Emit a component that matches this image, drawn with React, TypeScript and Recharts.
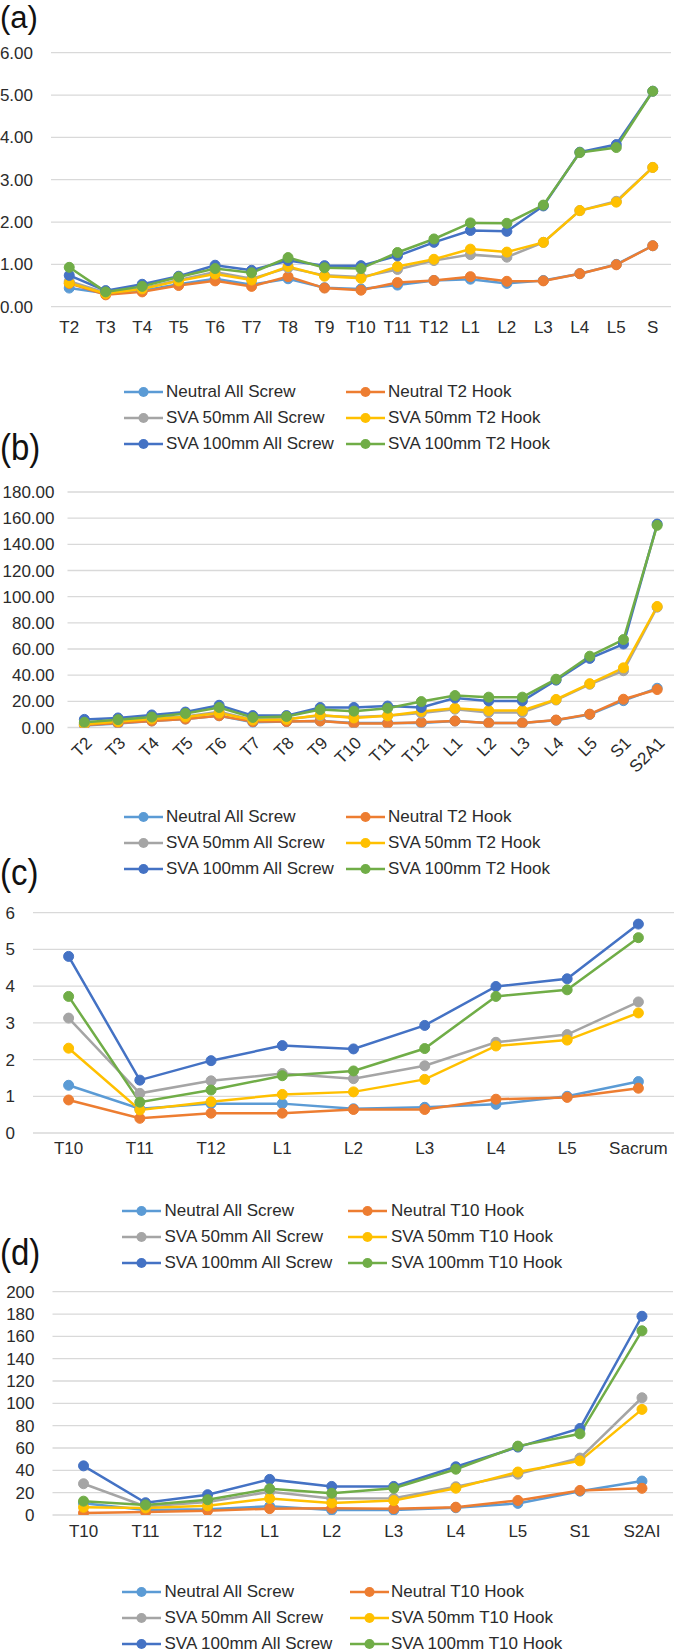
import React from 'react';
import { LineChart, Line, XAxis, YAxis, CartesianGrid, Legend } from 'recharts';

const COLORS = ['#5B9BD5', '#ED7D31', '#A5A5A5', '#FFC000', '#4472C4', '#70AD47'];
const FONT = "'Liberation Sans', Arial, Helvetica, sans-serif";
const TEXT = '#2b2b2b';

// ---- Panel (a) ----
const A_CATS = ['T2', 'T3', 'T4', 'T5', 'T6', 'T7', 'T8', 'T9', 'T10', 'T11', 'T12', 'L1', 'L2', 'L3', 'L4', 'L5', 'S'];
const A_NAMES = ['Neutral All Screw', 'Neutral T2 Hook', 'SVA 50mm All Screw', 'SVA 50mm T2 Hook', 'SVA 100mm All Screw', 'SVA 100mm T2 Hook'];
const A_NEUTRAL_SCREW = [0.44, 0.32, 0.38, 0.53, 0.66, 0.52, 0.66, 0.45, 0.42, 0.51, 0.62, 0.65, 0.55, 0.62, 0.78, 1.0, 1.44];
const A_NEUTRAL_HOOK = [0.55, 0.28, 0.35, 0.5, 0.61, 0.48, 0.71, 0.44, 0.39, 0.57, 0.62, 0.71, 0.6, 0.61, 0.78, 0.99, 1.44];
const A_SVA50_SCREW = [0.6, 0.33, 0.43, 0.63, 0.82, 0.66, 0.92, 0.74, 0.7, 0.88, 1.09, 1.23, 1.17, 1.52, 2.27, 2.49, 3.29];
const A_SVA50_HOOK = [0.56, 0.31, 0.42, 0.61, 0.77, 0.63, 0.95, 0.72, 0.67, 0.95, 1.12, 1.36, 1.29, 1.52, 2.27, 2.47, 3.29];
const A_SVA100_SCREW = [0.74, 0.38, 0.53, 0.72, 0.98, 0.86, 1.09, 0.97, 0.97, 1.2, 1.52, 1.8, 1.78, 2.38, 3.65, 3.83, 5.09];
const A_SVA100_HOOK = [0.93, 0.35, 0.48, 0.7, 0.9, 0.8, 1.16, 0.92, 0.9, 1.28, 1.6, 1.98, 1.97, 2.4, 3.64, 3.76, 5.09];
const A_TICKS = [0, 1, 2, 3, 4, 5, 6];

// ---- Panel (b) ----
const B_CATS = ['T2', 'T3', 'T4', 'T5', 'T6', 'T7', 'T8', 'T9', 'T10', 'T11', 'T12', 'L1', 'L2', 'L3', 'L4', 'L5', 'S1', 'S2A1'];
const B_NAMES = A_NAMES;
const B_NEUTRAL_SCREW = [1.5, 3.0, 5.0, 6.5, 9.0, 4.0, 4.5, 5.0, 3.5, 3.5, 3.5, 5.0, 3.5, 3.5, 5.5, 10.0, 20.5, 30.0];
const B_NEUTRAL_HOOK = [2.0, 3.5, 5.0, 6.5, 9.0, 4.5, 4.5, 5.0, 3.0, 3.0, 4.0, 5.0, 3.5, 3.5, 5.7, 10.2, 21.6, 29.0];
const B_SVA50_SCREW = [3.0, 5.0, 7.0, 8.5, 12.0, 6.0, 6.5, 9.0, 8.0, 9.0, 11.0, 14.0, 11.5, 11.5, 21.0, 33.0, 43.4, 92.0];
const B_SVA50_HOOK = [2.5, 4.5, 6.5, 8.0, 11.0, 5.7, 6.2, 9.6, 7.3, 8.9, 12.3, 14.8, 13.0, 13.0, 21.4, 33.5, 45.6, 92.5];
const B_SVA100_SCREW = [6.2, 7.3, 9.6, 11.8, 17.0, 9.1, 9.1, 15.3, 15.3, 16.4, 15.3, 22.5, 20.3, 20.3, 36.2, 52.8, 63.8, 155.5];
const B_SVA100_HOOK = [4.0, 6.0, 8.0, 10.7, 15.3, 7.7, 8.4, 13.7, 12.5, 14.8, 19.8, 24.4, 23.2, 23.2, 36.9, 54.5, 67.2, 154.5];
const B_TICKS = [0, 20, 40, 60, 80, 100, 120, 140, 160, 180];

// ---- Panel (c) ----
const C_CATS = ['T10', 'T11', 'T12', 'L1', 'L2', 'L3', 'L4', 'L5', 'Sacrum'];
const C_NAMES = ['Neutral All Screw', 'Neutral T10 Hook', 'SVA 50mm All Screw', 'SVA 50mm T10 Hook', 'SVA 100mm All Screw', 'SVA 100mm T10 Hook'];
const C_NEUTRAL_SCREW = [1.3, 0.66, 0.8, 0.8, 0.66, 0.7, 0.78, 1.0, 1.4];
const C_NEUTRAL_HOOK = [0.9, 0.4, 0.54, 0.54, 0.64, 0.64, 0.92, 0.97, 1.22];
const C_SVA50_SCREW = [3.13, 1.08, 1.42, 1.62, 1.48, 1.83, 2.47, 2.68, 3.57];
const C_SVA50_HOOK = [2.31, 0.63, 0.85, 1.05, 1.12, 1.46, 2.37, 2.53, 3.27];
const C_SVA100_SCREW = [4.81, 1.44, 1.97, 2.38, 2.29, 2.93, 3.99, 4.2, 5.69];
const C_SVA100_HOOK = [3.72, 0.84, 1.17, 1.56, 1.69, 2.3, 3.72, 3.9, 5.32];
const C_TICKS = [0, 1, 2, 3, 4, 5, 6];

// ---- Panel (d) ----
const D_CATS = ['T10', 'T11', 'T12', 'L1', 'L2', 'L3', 'L4', 'L5', 'S1', 'S2AI'];
const D_NAMES = C_NAMES;
const D_NEUTRAL_SCREW = [10.5, 4.4, 5.2, 7.8, 4.4, 4.4, 6.5, 10.4, 21.3, 30.4];
const D_NEUTRAL_HOOK = [1.8, 2.6, 3.9, 5.7, 6.0, 5.7, 7.0, 13.0, 22.0, 23.9];
const D_SVA50_SCREW = [28.0, 7.6, 11.6, 20.8, 14.8, 15.0, 25.3, 36.6, 51.0, 105.0];
const D_SVA50_HOOK = [6.9, 6.3, 8.2, 14.8, 10.8, 12.9, 24.0, 38.5, 48.5, 94.6];
const D_SVA100_SCREW = [44.0, 11.0, 18.2, 31.9, 25.6, 25.6, 43.2, 60.8, 77.5, 178.0];
const D_SVA100_HOOK = [12.4, 9.0, 13.7, 23.5, 19.5, 24.0, 41.0, 61.7, 72.7, 165.0];
const D_TICKS = [0, 20, 40, 60, 80, 100, 120, 140, 160, 180, 200];

function buildRows(cats: string[], series: number[][]) {
  return cats.map((c, i) => {
    const row: any = { cat: c };
    series.forEach((s, k) => {
      row['s' + k] = s[i];
    });
    return row;
  });
}

// Rows are 16px tall boxes whose centres sit 26px apart.
function LegendGrid(props: any) {
  const { payload, names, ix1, ix2, tx1, tx2 } = props;
  const items = names
    .map((n: string) => (payload || []).find((p: any) => p.value === n))
    .filter(Boolean);
  return (
    <div style={{ position: 'relative', width: 674, height: 68 }}>
      {items.map((p: any, i: number) => {
        const col = i % 2;
        const row = Math.floor(i / 2);
        const ix = col === 0 ? ix1 : ix2;
        const tx = col === 0 ? tx1 : tx2;
        return (
          <div key={p.value} style={{ position: 'absolute', left: 0, top: row * 26, height: 16, width: 674 }}>
            <svg style={{ position: 'absolute', left: ix, top: 0 }} width={40} height={16}>
              <line x1={0} y1={8} x2={39} y2={8} stroke={p.color} strokeWidth={2.5} />
              <circle cx={19.5} cy={8} r={5} fill={p.color} />
            </svg>
            <span
              style={{
                position: 'absolute',
                left: tx,
                top: 0,
                height: 16,
                lineHeight: '16px',
                fontSize: 17,
                fontFamily: FONT,
                color: TEXT,
                whiteSpace: 'nowrap',
              }}
            >
              {p.value}
            </span>
          </div>
        );
      })}
    </div>
  );
}

type PanelProps = {
  top: number;
  height: number;
  cats: string[];
  names: string[];
  series: number[][];
  domain: [number, number];
  ticks: number[];
  fmt: (v: number) => string;
  yWidth: number;
  yMargin: number;
  mTop: number;
  mBottom: number;
  mRight: number;
  xMargin: number;
  angle?: number;
  legendTop: number;
  ix1: number;
  ix2: number;
  tx1: number;
  tx2: number;
};

function Panel(p: PanelProps) {
  const rows = buildRows(p.cats, p.series);
  const W = 674;
  const plotW = W - p.yWidth - p.mRight;
  const pad = plotW / p.cats.length / 2;
  const tickStyle = { fontSize: 17, fill: TEXT, fontFamily: FONT };
  return (
    <div style={{ position: 'absolute', left: 0, top: p.top, width: W, height: p.height }}>
      <LineChart
        width={W}
        height={p.height}
        data={rows}
        margin={{ top: p.mTop, right: p.mRight, bottom: p.mBottom, left: 0 }}
      >
        <CartesianGrid vertical={false} stroke="#D9D9D9" strokeWidth={1.3} />
        <XAxis
          dataKey="cat"
          type="category"
          axisLine={false}
          tickLine={false}
          tickSize={0}
          tickMargin={p.xMargin}
          interval={0}
          padding={{ left: pad, right: pad }}
          tick={tickStyle}
          angle={p.angle || 0}
          textAnchor={p.angle ? 'end' : 'middle'}
          height={30}
        />
        <YAxis
          type="number"
          domain={p.domain}
          ticks={p.ticks}
          interval={0}
          width={p.yWidth}
          axisLine={false}
          tickLine={false}
          tickSize={0}
          tickMargin={p.yMargin}
          tick={tickStyle}
          tickFormatter={p.fmt}
          allowDataOverflow
        />
        <Legend
          layout="horizontal"
          verticalAlign="middle"
          align="center"
          wrapperStyle={{ top: p.legendTop, left: 0, width: W, margin: 0, padding: 0 }}
          content={(lp: any) => (
            <LegendGrid payload={lp.payload} names={p.names} ix1={p.ix1} ix2={p.ix2} tx1={p.tx1} tx2={p.tx2} />
          )}
        />
        {p.series.map((s, k) => (
          <Line
            key={p.names[k]}
            type="linear"
            dataKey={'s' + k}
            name={p.names[k]}
            stroke={COLORS[k]}
            strokeWidth={2.5}
            dot={{ r: 5, fill: COLORS[k], stroke: COLORS[k], strokeWidth: 1 }}
            activeDot={false}
            isAnimationActive={false}
          />
        ))}
      </LineChart>
    </div>
  );
}

const labelStyle = (top: number): React.CSSProperties => ({
  position: 'absolute',
  left: 0,
  top,
  fontSize: 33,
  lineHeight: '33px',
  fontFamily: FONT,
  color: '#111',
  transform: 'scaleY(1.1)',
  transformOrigin: 'top left',
  whiteSpace: 'nowrap',
});

const topLabelStyle: React.CSSProperties = {
  position: 'absolute',
  left: 0,
  top: 0,
  fontSize: 31,
  lineHeight: '35px',
  fontFamily: FONT,
  color: '#111',
  whiteSpace: 'nowrap',
};

export default function App() {
  const fix2 = (v: number) => v.toFixed(2);
  const fix0 = (v: number) => String(v);
  return (
    <div style={{ position: 'absolute', left: 0, top: 0, width: 674, height: 1651, background: '#fff', overflow: 'hidden' }}>
      <Panel
        top={0}
        height={460}
        cats={A_CATS}
        names={A_NAMES}
        series={[A_NEUTRAL_SCREW, A_NEUTRAL_HOOK, A_SVA50_SCREW, A_SVA50_HOOK, A_SVA100_SCREW, A_SVA100_HOOK]}
        domain={[0, 6]}
        ticks={A_TICKS}
        fmt={fix2}
        yWidth={51}
        yMargin={18}
        mTop={52.7}
        mBottom={123.3}
        mRight={3}
        xMargin={14}
        legendTop={384}
        ix1={124}
        ix2={346}
        tx1={166}
        tx2={388}
      />
      <Panel
        top={440}
        height={460}
        cats={B_CATS}
        names={B_NAMES}
        series={[B_NEUTRAL_SCREW, B_NEUTRAL_HOOK, B_SVA50_SCREW, B_SVA50_HOOK, B_SVA100_SCREW, B_SVA100_HOOK]}
        domain={[0, 180]}
        ticks={B_TICKS}
        fmt={fix2}
        yWidth={67.5}
        yMargin={13}
        mTop={52}
        mBottom={142.5}
        mRight={0}
        xMargin={8}
        angle={-45}
        legendTop={369}
        ix1={124}
        ix2={346}
        tx1={166}
        tx2={388}
      />
      <Panel
        top={850}
        height={430}
        cats={C_CATS}
        names={C_NAMES}
        series={[C_NEUTRAL_SCREW, C_NEUTRAL_HOOK, C_SVA50_SCREW, C_SVA50_HOOK, C_SVA100_SCREW, C_SVA100_HOOK]}
        domain={[0, 6]}
        ticks={C_TICKS}
        fmt={fix0}
        yWidth={33}
        yMargin={18}
        mTop={62.7}
        mBottom={117}
        mRight={0}
        xMargin={9}
        legendTop={353}
        ix1={122}
        ix2={348}
        tx1={164.5}
        tx2={391}
      />
      <Panel
        top={1260}
        height={391}
        cats={D_CATS}
        names={D_NAMES}
        series={[D_NEUTRAL_SCREW, D_NEUTRAL_HOOK, D_SVA50_SCREW, D_SVA50_HOOK, D_SVA100_SCREW, D_SVA100_HOOK]}
        domain={[0, 200]}
        ticks={D_TICKS}
        fmt={fix0}
        yWidth={52.5}
        yMargin={18}
        mTop={31.7}
        mBottom={106}
        mRight={1}
        xMargin={10}
        legendTop={323.5}
        ix1={122}
        ix2={349.5}
        tx1={164.5}
        tx2={391}
      />
      <div style={topLabelStyle}>(a)</div>
      <div style={labelStyle(429)}>(b)</div>
      <div style={labelStyle(854)}>(c)</div>
      <div style={labelStyle(1234)}>(d)</div>
    </div>
  );
}
